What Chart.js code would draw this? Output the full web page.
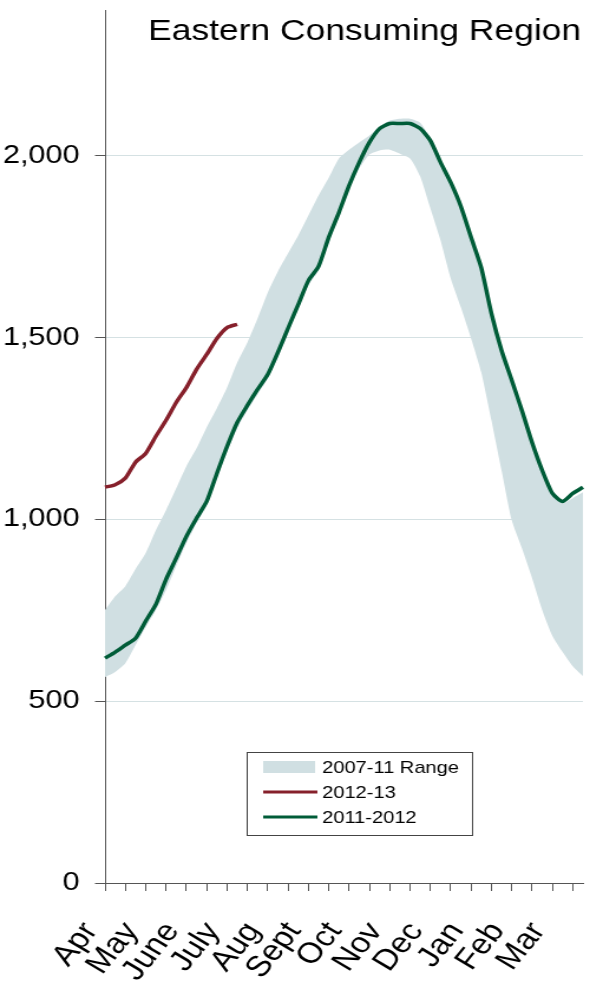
<!DOCTYPE html>
<html>
<head>
<meta charset="utf-8">
<script src="https://cdn.jsdelivr.net/npm/chart.js@4"></script>
<style>
  html, body { margin: 0; padding: 0; background: #fff; overflow: hidden; }
  #wrap { position: absolute; left: 0; top: 0; width: 500px; height: 988px; transform: scaleX(1.18); transform-origin: 0 0; }
  canvas { display: block; }
</style>
</head>
<body>
<div id="wrap"><canvas id="chart" width="500" height="988"></canvas></div>
<script>
// Eastern Consuming Region — working gas in storage (Bcf), weekly, Apr..Mar
const months = ['Apr', 'May', 'June', 'July', 'Aug', 'Sept', 'Oct', 'Nov', 'Dec', 'Jan', 'Feb', 'Mar'];
const weekLabels = months.flatMap(m => [m, '', '', '']);   // 48 weekly slots, month label on every 4th

const rangeHigh = [750, 788, 816, 863, 907, 970, 1025, 1085, 1146, 1195, 1253, 1305, 1362, 1431, 1486, 1552,
  1623, 1681, 1731, 1780, 1835, 1890, 1939, 1992, 2016, 2036, 2055, 2079, 2096, 2101, 2101, 2090,
  2047, 1986, 1931, 1865, 1780, 1698, 1571, 1470, 1387, 1305, 1217, 1140, 1074, 1044, 1058, 1074];
const rangeLow = [566, 580, 604, 654, 703, 750, 805, 871, 934, 989, 1038, 1113, 1184, 1250, 1299, 1343,
  1387, 1445, 1511, 1580, 1643, 1684, 1761, 1832, 1909, 1964, 2003, 2014, 2016, 2005, 1992, 1942,
  1854, 1766, 1662, 1582, 1497, 1404, 1272, 1134, 997, 920, 838, 750, 679, 635, 596, 569];
const y2012_13 = [1088, 1095, 1113, 1157, 1181, 1228, 1272, 1321, 1362, 1412, 1453, 1497, 1527, 1536];
const y2011_12 = [618, 635, 654, 673, 720, 766, 835, 893, 953, 1003, 1049, 1126, 1200, 1266, 1313, 1357,
  1398, 1459, 1525, 1590, 1656, 1695, 1775, 1843, 1917, 1981, 2036, 2074, 2088, 2088, 2088, 2074,
  2041, 1981, 1926, 1860, 1775, 1692, 1566, 1464, 1382, 1299, 1211, 1134, 1071, 1049, 1071, 1088];
const yTicks = [0, 500, 1000, 1500, 2000];

const FONT = '"Liberation Sans", Arial, sans-serif';
const BAND = '#d0dfe2';
const RED = '#86202b';
const GREEN = '#005c38';
const AXIS = '#555';

const titlePlugin = {
  id: 'regionTitle',
  afterDraw(chart) {
    const c = chart.ctx;
    c.save();
    c.font = '30px ' + FONT;
    c.fillStyle = '#000';
    c.textAlign = 'center';
    c.textBaseline = 'alphabetic';
    c.fillText('Eastern Consuming Region', 309, 40);
    c.restore();
  }
};

const boxLegend = {
  id: 'boxLegend',
  afterDraw(chart) {
    const c = chart.ctx;
    const x = 209, y = 752, w = 191, h = 83;
    c.save();
    c.fillStyle = '#fff';
    c.fillRect(x, y, w, h);
    c.strokeStyle = '#444';
    c.lineWidth = 1;
    c.strokeRect(x + 0.5, y + 0.5, w, h);
    c.font = '17px ' + FONT;
    c.fillStyle = '#000';
    c.textBaseline = 'middle';
    const items = chart.data.datasets.filter(d => d.legendKind);
    items.forEach((d, i) => {
      const cy = y + 15 + i * 25;
      if (d.legendKind === 'box') {
        c.fillStyle = d.backgroundColor;
        c.fillRect(x + 14, cy - 6, 44, 12);
      } else {
        c.strokeStyle = d.borderColor;
        c.lineWidth = 3;
        c.beginPath();
        c.moveTo(x + 14, cy);
        c.lineTo(x + 60, cy);
        c.stroke();
      }
      c.fillStyle = '#000';
      c.fillText(d.label, x + 64, cy + 1);
    });
    c.restore();
  }
};

new Chart(document.getElementById('chart'), {
  type: 'line',
  data: {
    labels: weekLabels,
    datasets: [
      { label: 'low', data: rangeLow, borderColor: 'rgba(0,0,0,0)', borderWidth: 0, pointRadius: 0, fill: false, tension: 0.2, order: 3 },
      { label: '2007-11 Range', legendKind: 'box', data: rangeHigh, borderColor: 'rgba(0,0,0,0)', borderWidth: 0, backgroundColor: BAND, pointRadius: 0, fill: '-1', tension: 0.2, order: 2 },
      { label: '2012-13', legendKind: 'line', data: y2012_13, borderColor: RED, borderWidth: 3.5, pointRadius: 0, fill: false, tension: 0.2, order: 1 },
      { label: '2011-2012', legendKind: 'line', data: y2011_12, borderColor: GREEN, borderWidth: 3.5, pointRadius: 0, fill: false, tension: 0.2, order: 0 },
    ],
  },
  options: {
    responsive: false,
    animation: false,
    layout: { padding: { left: 0, right: 6, top: 10, bottom: 0 } },
    plugins: { legend: { display: false }, tooltip: { enabled: false }, title: { display: false } },
    scales: {
      x: {
        type: 'category',
        offset: false,
        grid: {
          drawOnChartArea: false,
          drawTicks: true,
          tickLength: 8,
          tickColor: (c) => (c.index % 2 === 0 ? AXIS : 'rgba(0,0,0,0)'),
        },
        border: { color: AXIS, width: 1 },
        ticks: { autoSkip: false, maxRotation: 55, minRotation: 55, padding: 25, labelOffset: -12, color: '#000', font: { family: FONT, size: 29 } },
        afterFit: (s) => { s.height = 105; s.paddingLeft = 0; s.paddingRight = 0; },
      },
      y: {
        min: 0,
        max: 2400,
        afterBuildTicks: (s) => { s.ticks = yTicks.map(v => ({ value: v })); },
        grid: {
          color: (c) => (c.tick && c.tick.value === 0 ? 'rgba(0,0,0,0)' : '#d5e1e3'),
          tickColor: AXIS,
          tickLength: 8.5,
        },
        border: { color: AXIS, width: 1 },
        ticks: { padding: 13, color: '#000', font: { family: FONT, size: 26 }, callback: (v) => v.toLocaleString('en-US') },
        afterFit: (s) => { s.width = 89; s.paddingTop = 0; s.paddingBottom = 0; },
      },
    },
  },
  plugins: [titlePlugin, boxLegend],
});
</script>
</body>
</html>
